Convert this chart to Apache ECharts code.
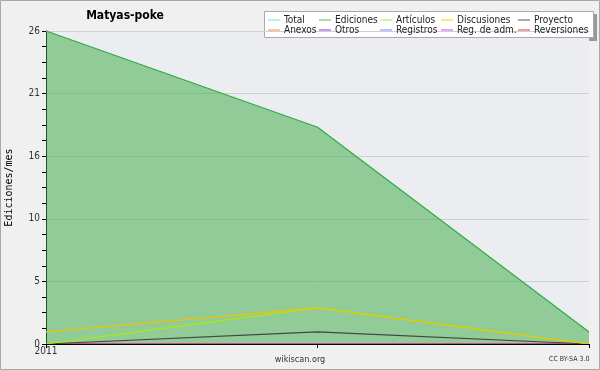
<!DOCTYPE html>
<html><head><meta charset="utf-8">
<script src="https://cdn.jsdelivr.net/npm/echarts@6/dist/echarts.min.js"></script>
<style>html,body{margin:0;padding:0;background:#f0f0f0}#c{width:600px;height:370px}</style>
</head><body><div id="c"></div>
<script>
const categories = ['2011-01', '2011-02', '2011-03'];
const xLabels = ['2011', '', ''];
const yTicks = [0, 5.2, 10.4, 15.6, 20.8, 26];
const total = [26, 18, 1];
const ediciones = [26, 18, 1];
const articulos = [0, 3, 0];
const discusiones = [1, 3, 0];
const proyecto = [0, 1, 0];
const anexos = [0, 0, 0];
const otros = [0, 0, 0];
const registros = [0, 0, 0];
const regAdm = [0, 0, 0];
const reversiones = [0, 0, 0];
const legendCols = [['Total', 'Anexos'], ['Ediciones', 'Otros'], ['Artículos', 'Registros'], ['Discusiones', 'Reg. de adm.'], ['Proyecto', 'Reversiones']];

const colors = {
  'Total': '#88dddd', 'Ediciones': '#55bb55', 'Artículos': '#aaee22', 'Discusiones': '#ffcc00', 'Proyecto': '#555555',
  'Anexos': '#ff8833', 'Otros': '#8833dd', 'Registros': '#7788ff', 'Reg. de adm.': '#dd44ee', 'Reversiones': '#ee3333'
};
const dataMap = {
  'Total': total, 'Ediciones': ediciones, 'Artículos': articulos, 'Discusiones': discusiones, 'Proyecto': proyecto,
  'Anexos': anexos, 'Otros': otros, 'Registros': registros, 'Reg. de adm.': regAdm, 'Reversiones': reversiones
};
const order = ['Total', 'Anexos', 'Otros', 'Registros', 'Reg. de adm.', 'Reversiones', 'Ediciones', 'Proyecto', 'Artículos', 'Discusiones'];
const lineColors = {'Ediciones': '#3aaa3a', 'Discusiones': '#f2c200', 'Artículos': '#aaee00', 'Proyecto': '#444444'};

const series = order.map((n, i) => {
  const s = {
    name: n, type: 'line', data: dataMap[n], symbol: 'none', silent: true,
    lineStyle: {width: 1.2, color: lineColors[n] || colors[n]},
    itemStyle: {color: colors[n]}, z: 2
  };
  if (n === 'Ediciones') s.areaStyle = {color: 'rgba(53,169,64,0.5)', opacity: 1};
  return s;
});

const colX = [268, 319, 380, 441, 518];
const legends = legendCols.map((col, i) => ({
  data: col.map(n => ({name: n, itemStyle: {color: colors[n]}})), orient: 'vertical', left: colX[i], top: 15, itemGap: 0,
  icon: 'rect', itemWidth: 12, itemHeight: 1, selectedMode: false,
  textStyle: {fontFamily: 'DejaVu Sans Condensed', fontSize: 10, lineHeight: 10, color: '#222', padding: [0, 0, 0, -1]},
  padding: 0
}));

const chart = echarts.init(document.getElementById('c'));
chart.setOption({
  animation: false,
  backgroundColor: '#f0f0f0',
  color: order.map(n => colors[n]),
  title: {text: 'Matyas-poke', left: 120, top: 5, textAlign: 'center',
    textStyle: {fontFamily: 'DejaVu Sans Condensed', fontSize: 12, fontWeight: 'bold', color: '#000'}},
  legend: legends,
  grid: {left: 46, right: 11, top: 31, bottom: 26, show: true, backgroundColor: '#ebedf0', borderWidth: 0,
    containLabel: false, outerBoundsMode: 'none'},
  xAxis: {
    type: 'category', data: categories, boundaryGap: false, z: 3,
    axisLine: {lineStyle: {color: '#000', width: 1}},
    axisTick: {show: true, length: 4, lineStyle: {color: '#000'}},
    axisLabel: {formatter: (v, i) => xLabels[i], fontFamily: 'DejaVu Sans Condensed', fontSize: 10, color: '#333', margin: 2},
    splitLine: {show: false}
  },
  yAxis: {
    type: 'value', min: yTicks[0], max: yTicks[yTicks.length - 1], interval: yTicks[1] - yTicks[0],
    name: 'Ediciones/mes', nameLocation: 'middle', nameGap: 32,
    nameTextStyle: {fontFamily: 'DejaVu Sans Mono', fontSize: 10, color: '#000'},
    axisLine: {show: true, lineStyle: {color: '#000', width: 1}},
    axisTick: {show: true, length: 4, lineStyle: {color: '#000'}},
    minorTick: {show: true, splitNumber: 4, length: 4, lineStyle: {color: '#000'}},
    axisLabel: {formatter: v => String(Math.round(v)), fontFamily: 'DejaVu Sans Condensed', fontSize: 10, color: '#333', margin: 6},
    splitLine: {show: true, lineStyle: {color: '#d0d0d0', width: 1}}
  },
  graphic: [
    {type: 'rect', shape: {x: 0.5, y: 0.5, width: 599, height: 369}, style: {fill: 'none', stroke: '#a8a8a8', lineWidth: 1}, z: 100},
    {type: 'rect', shape: {x: 267, y: 14, width: 330, height: 27}, style: {fill: '#999'}, z: -1},
    {type: 'rect', shape: {x: 264.5, y: 11.5, width: 329, height: 26}, style: {fill: '#fff', stroke: '#aaa', lineWidth: 1}, z: 0},
    {type: 'text', style: {text: 'wikiscan.org', x: 300, y: 355, textAlign: 'center', fontFamily: 'DejaVu Sans Condensed', fontSize: 9, fill: '#333'}},
    {type: 'text', style: {text: 'CC BY-SA 3.0', x: 549, y: 356, fontFamily: 'DejaVu Sans Condensed', fontSize: 7, fill: '#333'}}
  ],
  series: series
});
</script></body></html>
